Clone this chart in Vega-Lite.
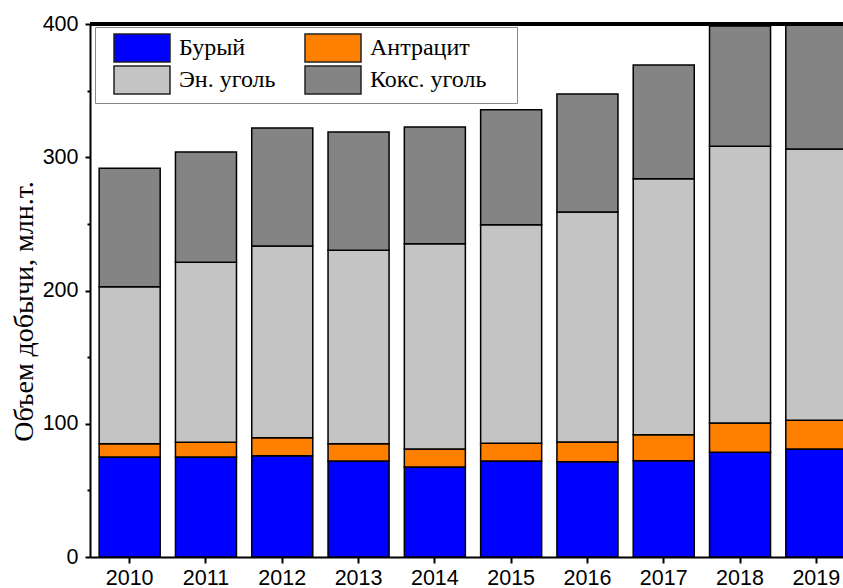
{
  "$schema": "https://vega.github.io/schema/vega-lite/v6.json",
  "width": 753,
  "height": 533,
  "autosize": {"type": "none"},
  "padding": {"left": 90, "top": 24, "right": 0, "bottom": 31},
  "background": "white",
  "config": {
    "view": {"stroke": null},
    "axis": {
      "domainColor": "black",
      "domainWidth": 2,
      "tickColor": "black",
      "tickWidth": 2,
      "labelFont": "Liberation Sans",
      "labelFontSize": 21.5,
      "labelColor": "black",
      "grid": false
    },
    "legend": {
      "orient": "none",
      "legendX": 5,
      "legendY": 3,
      "columns": 2,
      "symbolType": "M-1,-1H3V1H-1Z",
      "symbolSize": 784,
      "symbolStrokeColor": "#222222",
      "symbolStrokeWidth": 1.5,
      "symbolOpacity": 1,
      "labelFont": "Liberation Serif",
      "labelFontSize": 24,
      "labelColor": "black",
      "labelOffset": 36,
      "symbolOffset": 12,
      "padding": 6,
      "rowPadding": -3,
      "columnPadding": 16,
      "strokeColor": "#888888",
      "fillColor": "white",
      "labelLimit": 0,
      "titleOrient": "right",
      "titlePadding": 25,
      "titleFontSize": 24
    }
  },
  "data": {
    "values": [
      {"year": "2010", "type": "Бурый", "k": 1, "value": 75.0},
      {"year": "2010", "type": "Антрацит", "k": 2, "value": 10.0},
      {"year": "2010", "type": "Эн. уголь", "k": 3, "value": 117.9},
      {"year": "2010", "type": "Кокс. уголь", "k": 4, "value": 88.8},
      {"year": "2011", "type": "Бурый", "k": 1, "value": 75.0},
      {"year": "2011", "type": "Антрацит", "k": 2, "value": 11.1},
      {"year": "2011", "type": "Эн. уголь", "k": 3, "value": 135.1},
      {"year": "2011", "type": "Кокс. уголь", "k": 4, "value": 82.7},
      {"year": "2012", "type": "Бурый", "k": 1, "value": 76.0},
      {"year": "2012", "type": "Антрацит", "k": 2, "value": 13.5},
      {"year": "2012", "type": "Эн. уголь", "k": 3, "value": 143.9},
      {"year": "2012", "type": "Кокс. уголь", "k": 4, "value": 88.6},
      {"year": "2013", "type": "Бурый", "k": 1, "value": 72.0},
      {"year": "2013", "type": "Антрацит", "k": 2, "value": 13.0},
      {"year": "2013", "type": "Эн. уголь", "k": 3, "value": 145.2},
      {"year": "2013", "type": "Кокс. уголь", "k": 4, "value": 88.8},
      {"year": "2014", "type": "Бурый", "k": 1, "value": 67.5},
      {"year": "2014", "type": "Антрацит", "k": 2, "value": 13.5},
      {"year": "2014", "type": "Эн. уголь", "k": 3, "value": 154.1},
      {"year": "2014", "type": "Кокс. уголь", "k": 4, "value": 87.6},
      {"year": "2015", "type": "Бурый", "k": 1, "value": 72.0},
      {"year": "2015", "type": "Антрацит", "k": 2, "value": 13.3},
      {"year": "2015", "type": "Эн. уголь", "k": 3, "value": 164.1},
      {"year": "2015", "type": "Кокс. уголь", "k": 4, "value": 86.3},
      {"year": "2016", "type": "Бурый", "k": 1, "value": 71.5},
      {"year": "2016", "type": "Антрацит", "k": 2, "value": 14.8},
      {"year": "2016", "type": "Эн. уголь", "k": 3, "value": 172.6},
      {"year": "2016", "type": "Кокс. уголь", "k": 4, "value": 88.6},
      {"year": "2017", "type": "Бурый", "k": 1, "value": 72.3},
      {"year": "2017", "type": "Антрацит", "k": 2, "value": 19.5},
      {"year": "2017", "type": "Эн. уголь", "k": 3, "value": 192.1},
      {"year": "2017", "type": "Кокс. уголь", "k": 4, "value": 85.3},
      {"year": "2018", "type": "Бурый", "k": 1, "value": 78.6},
      {"year": "2018", "type": "Антрацит", "k": 2, "value": 22.0},
      {"year": "2018", "type": "Эн. уголь", "k": 3, "value": 207.6},
      {"year": "2018", "type": "Кокс. уголь", "k": 4, "value": 90.3},
      {"year": "2019", "type": "Бурый", "k": 1, "value": 81.0},
      {"year": "2019", "type": "Антрацит", "k": 2, "value": 21.6},
      {"year": "2019", "type": "Эн. уголь", "k": 3, "value": 203.6},
      {"year": "2019", "type": "Кокс. уголь", "k": 4, "value": 103.8}
    ]
  },
  "layer": [
    {
      "mark": {"type": "bar", "stroke": "black", "strokeWidth": 1.5, "clip": true},
      "encoding": {
        "x": {
          "field": "year",
          "type": "nominal",
          "scale": {"range": [0, 766], "paddingInner": 0.2, "paddingOuter": 0.12},
          "axis": {
            "title": null,
            "labelAngle": 0,
            "tickSize": 6,
            "labelPadding": 4
          }
        },
        "y": {
          "field": "value",
          "type": "quantitative",
          "stack": "zero",
          "scale": {"domain": [0, 400], "nice": false},
          "axis": {
            "title": "Объем добычи, млн.т.",
            "titleFont": "Liberation Serif",
            "titleFontSize": 28,
            "titleFontWeight": "normal",
            "titleColor": "black",
            "titleAngle": -90,
            "titleAlign": "center",
            "titleBaseline": "alphabetic",
            "titleX": -58,
            "titleY": 287,
            "values": [0, 50, 100, 150, 200, 250, 300, 350, 400],
            "labelExpr": "datum.value % 100 === 0 ? datum.label : ''",
            "tickSize": {"condition": {"test": "datum.value % 100 === 0", "value": 5}, "value": 3},
            "labelPadding": 7
          }
        },
        "color": {
          "field": "type",
          "type": "nominal",
          "scale": {
            "domain": ["Бурый", "Эн. уголь", "Антрацит", "Кокс. уголь"],
            "range": ["#0000FF", "#C4C4C4", "#FF8000", "#848484"]
          },
          "legend": {"title": "\u00a0"}
        },
        "order": {"field": "k", "type": "quantitative", "sort": "ascending"}
      }
    },
    {
      "mark": {"type": "rule", "color": "black", "strokeWidth": 2.5},
      "encoding": {"y": {"datum": 400}}
    }
  ]
}
